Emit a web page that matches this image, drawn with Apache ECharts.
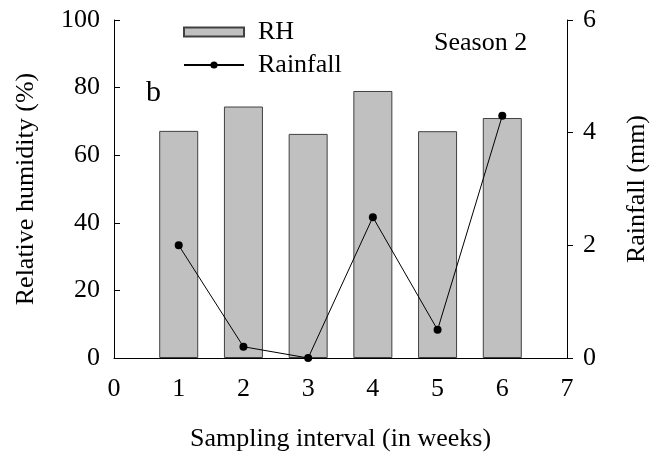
<!DOCTYPE html>
<html>
<head>
<meta charset="utf-8">
<script src="https://cdn.jsdelivr.net/npm/echarts@6/dist/echarts.min.js"></script>
<style>
  html, body { margin: 0; padding: 0; background: #fff; }
  #chart { width: 653px; height: 458px; }
</style>
</head>
<body>
<div id="chart"></div>
<script>
// Weekly sampling, season 2
const weeks = [1, 2, 3, 4, 5, 6];
const relativeHumidity = [67.2, 74.4, 66.3, 79.0, 67.1, 71.0];
const rainfall = [2.0, 0.2, 0.0, 2.5, 0.5, 4.3];
const xTicks = [0, 1, 2, 3, 4, 5, 6, 7];
const rhTicks = [0, 20, 40, 60, 80, 100];
const rainTicks = [0, 2, 4, 6];

const FONT = 'Liberation Serif';
const FS = 26;
const chart = echarts.init(document.getElementById('chart'));

const pairs = (xs, ys) => xs.map((x, i) => [x, ys[i]]);

chart.setOption({
  animation: false,
  backgroundColor: '#ffffff',
  textStyle: { fontFamily: FONT, color: '#000' },
  grid: {
    left: 114, right: 86, top: 20, bottom: 100,
    containLabel: false,
    outerBoundsMode: 'none'
  },
  legend: {
    orient: 'vertical',
    left: 183,
    top: 19,
    padding: 0,
    itemWidth: 60,
    itemHeight: 9,
    itemGap: 7,
    textStyle: { fontFamily: FONT, fontSize: FS, color: '#000', padding: [0, 0, 0, 9] },
    data: [
      { name: 'RH', icon: 'rect' },
      { name: 'Rainfall' }
    ]
  },
  xAxis: {
    type: 'value',
    min: xTicks[0],
    max: xTicks[xTicks.length - 1],
    interval: 1,
    name: 'Sampling interval (in weeks)',
    nameLocation: 'middle',
    nameGap: 68,
    nameTextStyle: { fontFamily: FONT, fontSize: FS, color: '#000' },
    axisLine: { show: true, onZero: false, lineStyle: { color: '#000', width: 1 } },
    axisTick: { show: false },
    axisLabel: { fontFamily: FONT, fontSize: FS, color: '#000', margin: 18 },
    splitLine: { show: false }
  },
  yAxis: [
    {
      type: 'value',
      min: rhTicks[0],
      max: rhTicks[rhTicks.length - 1],
      interval: 20,
      name: 'Relative humidity (%)',
      nameLocation: 'middle',
      nameGap: 75,
      nameTextStyle: { fontFamily: FONT, fontSize: FS, color: '#000' },
      axisLine: { show: true, lineStyle: { color: '#000', width: 1 } },
      axisTick: { show: true, inside: true, length: 6, lineStyle: { color: '#000' } },
      axisLabel: { fontFamily: FONT, fontSize: FS, color: '#000', margin: 14 },
      splitLine: { show: false }
    },
    {
      type: 'value',
      position: 'right',
      min: rainTicks[0],
      max: rainTicks[rainTicks.length - 1],
      interval: 2,
      name: 'Rainfall (mm)',
      nameLocation: 'middle',
      nameGap: 57,
      nameRotate: 90,
      nameTextStyle: { fontFamily: FONT, fontSize: FS, color: '#000' },
      axisLine: { show: true, lineStyle: { color: '#000', width: 1 } },
      axisTick: { show: true, inside: false, length: 6, lineStyle: { color: '#000' } },
      axisLabel: { fontFamily: FONT, fontSize: FS, color: '#000', margin: 16 },
      splitLine: { show: false }
    }
  ],
  series: [
    {
      name: 'RH',
      type: 'bar',
      yAxisIndex: 0,
      barWidth: 39,
      data: pairs(weeks, relativeHumidity),
      itemStyle: { color: '#c0c0c0', borderColor: '#404040', borderWidth: 1 }
    },
    {
      name: 'Rainfall',
      type: 'line',
      yAxisIndex: 1,
      data: pairs(weeks, rainfall),
      symbol: 'circle',
      symbolSize: 8,
      lineStyle: { color: '#000', width: 1 },
      itemStyle: { color: '#000' },
      z: 5
    }
  ],
  graphic: [
    {
      type: 'text',
      left: 146,
      top: 78,
      style: { text: 'b', font: '30px "Liberation Serif"', fill: '#000' }
    },
    {
      type: 'text',
      left: 434,
      top: 30,
      style: { text: 'Season 2', font: '26px "Liberation Serif"', fill: '#000' }
    }
  ]
});
</script>
</body>
</html>
